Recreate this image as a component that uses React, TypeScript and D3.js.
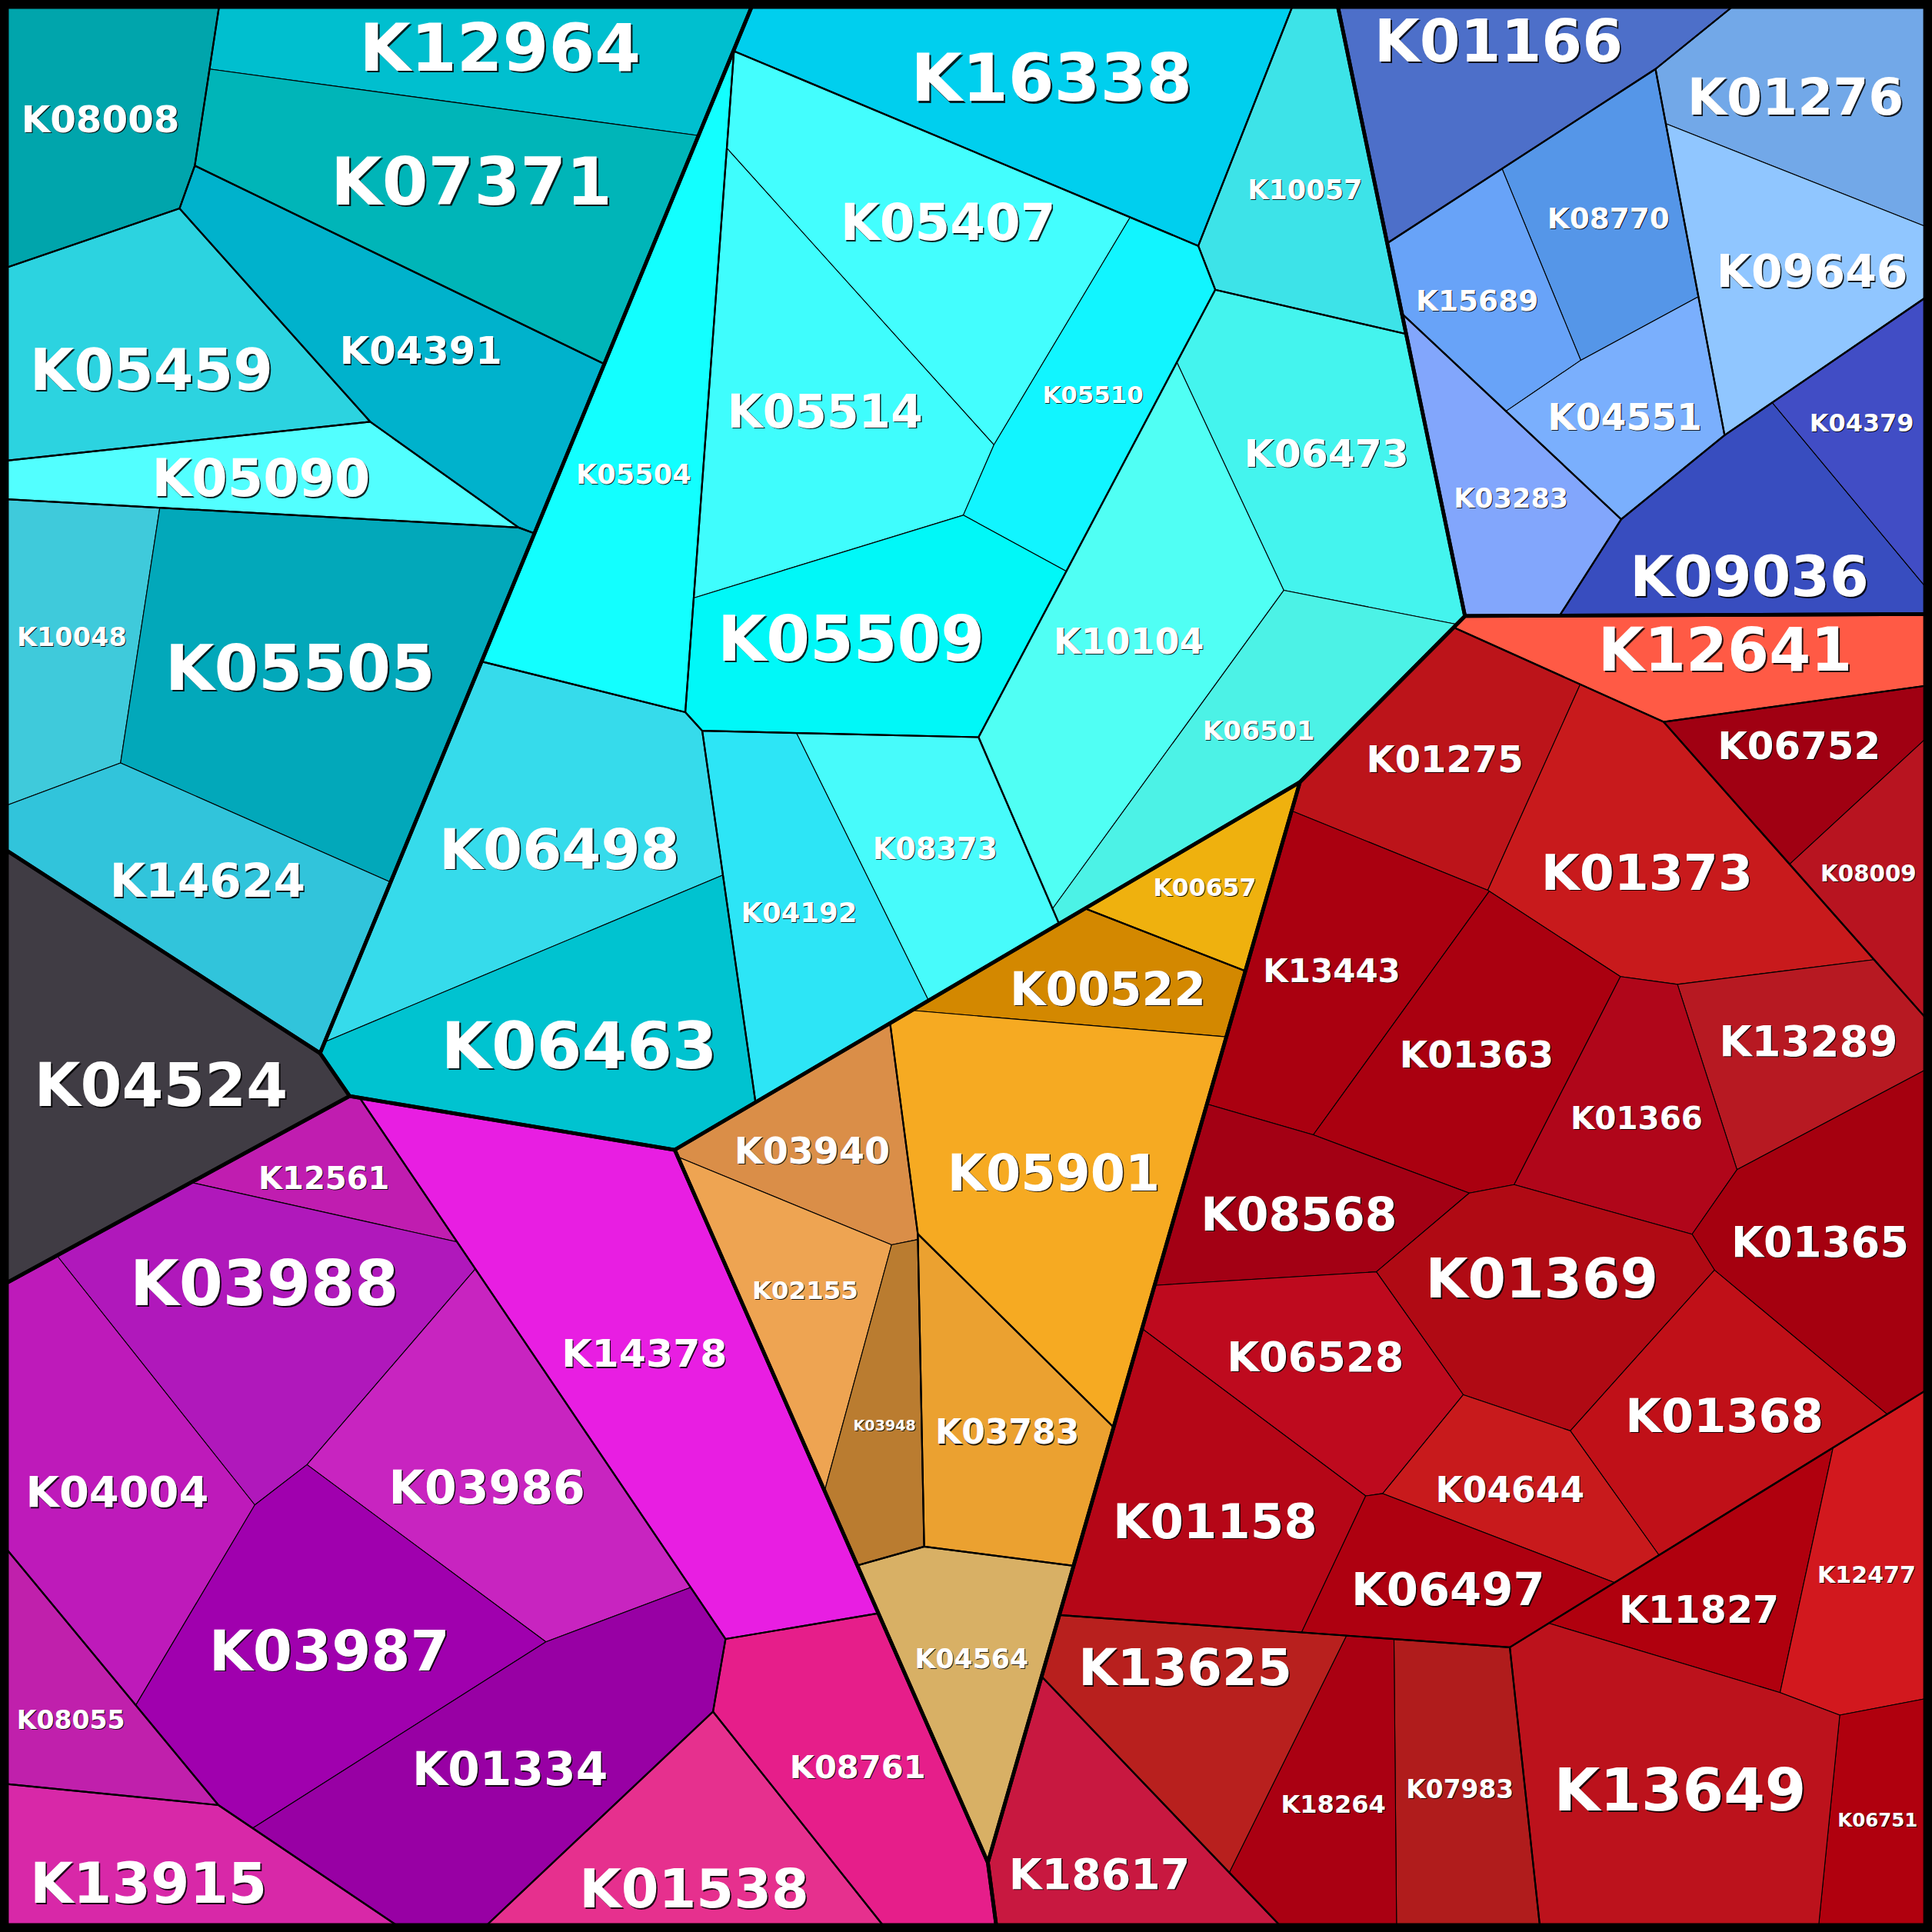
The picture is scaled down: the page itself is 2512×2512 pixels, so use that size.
import React, { useMemo } from "react";
import * as d3 from "d3";

type Pt = [number, number];

// Canvas and layout grid (cell centres are given on a 1568-unit grid)
const SIZE = 2512;
const GRID = 1568;
const INSET = 9;

const groupNames = ["teal", "cyan", "blue", "red", "orange", "magenta", "slate"];

const ids = [
  "K08008", "K12964", "K07371", "K05459", "K04391", "K05090", "K10048", "K05505", "K14624",
  "K16338", "K10057", "K05407", "K05514", "K05510", "K05504", "K05509", "K06473", "K10104", "K06501", "K08373", "K04192", "K06498", "K06463",
  "K01166", "K01276", "K08770", "K09646", "K15689", "K04551", "K03283", "K09036", "K04379",
  "K12641", "K01275", "K06752", "K08009", "K01373", "K13289", "K13443", "K01363", "K01366", "K01365", "K08568", "K01369", "K01368", "K06528", "K04644", "K01158", "K06497", "K11827", "K12477", "K06751", "K13649", "K07983", "K18264", "K13625", "K18617",
  "K00657", "K00522", "K05901", "K03940", "K02155", "K03948", "K03783", "K04564",
  "K12561", "K03988", "K04004", "K03986", "K03987", "K08055", "K01334", "K13915", "K14378", "K08761", "K01538",
  "K04524",
];

// top-level category of each ortholog
const groupOf = [
  0, 0, 0, 0, 0, 0, 0, 0, 0,
  1, 1, 1, 1, 1, 1, 1, 1, 1, 1, 1, 1, 1, 1,
  2, 2, 2, 2, 2, 2, 2, 2, 2,
  3, 3, 3, 3, 3, 3, 3, 3, 3, 3, 3, 3, 3, 3, 3, 3, 3, 3, 3, 3, 3, 3, 3, 3, 3,
  4, 4, 4, 4, 4, 4, 4, 4,
  5, 5, 5, 5, 5, 5, 5, 5, 5, 5, 5,
  6,
];

// second-level pathway of each ortholog
const pathwayOf = [
  0, 1, 1, 2, 3, 4, 5, 5, 5,
  6, 7, 8, 8, 8, 9, 8, 10, 10, 10, 11, 11, 12, 12,
  13, 14, 15, 14, 15, 15, 16, 17, 17,
  18, 19, 20, 20, 19, 19, 19, 19, 19, 19, 19, 19, 19, 19, 19, 19, 19, 21, 21, 21, 21, 22, 22, 22, 23,
  24, 25, 25, 26, 26, 26, 27, 28,
  29, 29, 29, 29, 29, 30, 29, 31, 32, 33, 34,
  35,
];

// relative abundance of each ortholog (cell area)
const values = [
  29.1, 32.5, 52.4, 38.6, 38.5, 20.9, 24.2, 68.5, 36.0,
  50.0, 26.3, 46.0, 47.8, 26.1, 44.9, 39.8, 39.9, 48.5, 28.3, 25.7, 30.9, 51.8, 45.1,
  31.5, 27.5, 21.8, 29.1, 17.1, 16.9, 20.4, 29.3, 14.4,
  23.3, 27.2, 16.0, 12.3, 40.8, 21.7, 31.4, 32.0, 22.4, 31.6, 22.8, 33.1, 29.2, 27.3, 17.2, 36.6, 18.5, 19.7, 21.9, 13.6, 52.2, 23.8, 21.4, 27.9, 24.6,
  11.0, 15.8, 56.6, 18.0, 19.1, 13.7, 26.6, 22.3,
  11.0, 46.9, 41.9, 43.9, 49.9, 16.2, 50.5, 25.0, 74.3, 33.6, 27.6,
  50.8,
];

// centre of each cell on the layout grid
const seedX = [
  83, 403, 373, 133, 338, 186, 61, 255, 171,
  853, 1053, 759, 652, 887, 514, 707, 1076, 916, 1021, 754, 652, 435, 470,
  1208, 1469, 1305, 1447, 1204, 1325, 1221, 1420, 1526,
  1394, 1183, 1460, 1525, 1345, 1456, 1082, 1196, 1328, 1492, 1048, 1251, 1391, 1069, 1236, 978, 1169, 1397, 1515, 1521, 1354, 1185, 1083, 969, 891,
  979, 890, 855, 671, 647, 719, 812, 788,
  272, 215, 88, 404, 258, 73, 411, 127, 523, 696, 559,
  103,
];
const seedY = [
  98, 46, 156, 282, 288, 386, 514, 541, 724,
  72, 161, 202, 320, 321, 385, 518, 368, 520, 592, 682, 739, 679, 839,
  69, 80, 177, 221, 236, 335, 395, 440, 353,
  533, 612, 621, 728, 699, 852, 788, 854, 907, 1008, 980, 1053, 1149, 1110, 1209, 1226, 1286, 1296, 1270, 1475, 1452, 1452, 1462, 1388, 1495,
  723, 800, 952, 926, 1053, 1158, 1161, 1346,
  956, 1071, 1202, 1198, 1339, 1394, 1432, 1515, 1098, 1434, 1504,
  868,
];

const colors = [
  "#00A5AC", "#00BFCF", "#00B5B8", "#2CD3E0", "#00B2CC", "#52FFFF", "#3FCADB", "#02A8BA", "#31C4DB",
  "#00CFEE", "#3DE3E8", "#43FEFE", "#3FFDFD", "#11F5FF", "#12FFFF", "#00F8F8", "#44F4EE", "#50FFF4", "#4CF2E6", "#47FBFB", "#2DE5F6", "#36DBEB", "#00C3D0",
  "#4D6FC9", "#72A8E8", "#5596E8", "#90C6FF", "#68A3F8", "#7AAFFD", "#82A6FC", "#384DBF", "#414DC5",
  "#FF5A45", "#BC141A", "#A00012", "#B81420", "#C81A1C", "#B71922", "#AA0010", "#AA0010", "#B0061A", "#A5000F", "#A30014", "#B00A14", "#C01018", "#BE0A1E", "#C81A1C", "#B50617", "#AE0010", "#B0000E", "#D2181E", "#B0000E", "#BC121C", "#B01C1C", "#AA0012", "#B8201E", "#C81840",
  "#EFB10E", "#D38800", "#F6AA22", "#DA8E48", "#EEA452", "#BA7C30", "#EBA130", "#D8B065",
  "#C01DB0", "#B018BB", "#BE1ABA", "#C824C0", "#A000AE", "#C020AC", "#9800A4", "#D828A8", "#E81EE2", "#E61E8A", "#E6308E",
  "#403C44",
];

const unit = d3.scaleLinear().domain([0, GRID]).range([0, SIZE]);

interface Site { x: number; y: number; w: number; tx: number; ty: number; target: number; reach: number; }
interface Cell { pts: Pt[]; lab: number[]; }

// Clip a convex polygon by a*x + b*y <= c, tracking which site produced each edge
function clipHalf(P: Cell, a: number, b: number, c: number, j: number): Cell {
  const pts: Pt[] = [];
  const lab: number[] = [];
  const n = P.pts.length;
  for (let k = 0; k < n; k++) {
    const p = P.pts[k];
    const q = P.pts[(k + 1) % n];
    const fp = a * p[0] + b * p[1] - c;
    const fq = a * q[0] + b * q[1] - c;
    const pin = fp <= 0;
    const qin = fq <= 0;
    if (pin) {
      pts.push(p);
      lab.push(P.lab[k]);
      if (!qin) {
        const t = fp / (fp - fq);
        pts.push([p[0] + t * (q[0] - p[0]), p[1] + t * (q[1] - p[1])]);
        lab.push(j);
      }
    } else if (qin) {
      const t = fp / (fp - fq);
      pts.push([p[0] + t * (q[0] - p[0]), p[1] + t * (q[1] - p[1])]);
      lab.push(P.lab[k]);
    }
  }
  return { pts, lab };
}

// Power-diagram cell of site i inside the clip polygon
function powerCell(i: number, sites: Site[], clip: Pt[]): Cell {
  let P: Cell = { pts: clip, lab: clip.map(() => -1) };
  const s = sites[i];
  for (let j = 0; j < sites.length; j++) {
    if (j === i) continue;
    const t = sites[j];
    const a = 2 * (t.x - s.x);
    const b = 2 * (t.y - s.y);
    const c = t.x * t.x + t.y * t.y - s.x * s.x - s.y * s.y - t.w + s.w;
    P = clipHalf(P, a, b, c, j);
    if (P.pts.length < 3) return { pts: [], lab: [] };
  }
  return P;
}

// Weighted Voronoi treemap step: areas follow the values, cell centroids follow the given centres
function relax(clip: Pt[], seeds: Pt[], vals: number[], iters: number): Pt[][] {
  if (seeds.length === 1) return [clip];
  const clipArea = Math.abs(d3.polygonArea(clip));
  const total = d3.sum(vals);
  const c0 = d3.polygonCentroid(clip);
  const sites: Site[] = seeds.map((p, i) => {
    const target = (clipArea * vals[i]) / total;
    return { x: p[0], y: p[1], w: 0, tx: p[0], ty: p[1], target, reach: 0.6 * Math.sqrt(target) };
  });
  const keepInside = (s: Site) => {
    const dx = s.x - s.tx;
    const dy = s.y - s.ty;
    const d = Math.hypot(dx, dy);
    if (d > s.reach) {
      s.x = s.tx + (dx * s.reach) / d;
      s.y = s.ty + (dy * s.reach) / d;
    }
    let k = 0;
    while (!d3.polygonContains(clip, [s.x, s.y]) && k++ < 80) {
      s.x = c0[0] + (s.x - c0[0]) * 0.96;
      s.y = c0[1] + (s.y - c0[1]) * 0.96;
    }
  };
  sites.forEach(keepInside);
  const step = (move: number) => {
    const upd = sites.map((s, i) => {
      const cell = powerCell(i, sites, clip);
      const n = cell.pts.length;
      if (n < 3) {
        let m = Infinity;
        sites.forEach((t, j) => {
          if (j !== i) m = Math.min(m, (t.x - s.x) ** 2 + (t.y - s.y) ** 2);
        });
        return { dx: 0, dy: 0, dw: 0.3 * m };
      }
      const area = Math.abs(d3.polygonArea(cell.pts));
      const [cx, cy] = d3.polygonCentroid(cell.pts);
      let sens = 0;
      for (let k = 0; k < n; k++) {
        const L = cell.lab[k];
        if (L < 0) continue;
        const p = cell.pts[k];
        const q = cell.pts[(k + 1) % n];
        const len = Math.hypot(q[0] - p[0], q[1] - p[1]);
        const d = Math.hypot(sites[L].x - s.x, sites[L].y - s.y);
        sens += len / (2 * Math.max(d, 1e-6));
      }
      return { dx: s.tx - cx, dy: s.ty - cy, dw: (0.5 * (s.target - area)) / Math.max(sens, 1e-3) };
    });
    sites.forEach((s, i) => {
      s.x += move * upd[i].dx;
      s.y += move * upd[i].dy;
      s.w += upd[i].dw;
      if (move > 0) keepInside(s);
    });
  };
  for (let it = 0; it < iters; it++) step(0.35);
  for (let it = 0; it < 200; it++) step(0);
  return sites.map((_, i) => powerCell(i, sites, clip).pts);
}

// DejaVu Sans Bold advance widths in em
const emWidth = (t: string) => Array.from(t).reduce((s, ch) => s + (ch === "K" ? 0.777 : 0.696), 0);

interface Label { x: number; y: number; size: number; }

// Largest label that fits the cell, searched around its centroid
function placeLabel(poly: Pt[], text: string): Label | null {
  if (!poly || poly.length < 3) return null;
  const area = Math.abs(d3.polygonArea(poly));
  const [cx, cy] = d3.polygonCentroid(poly);
  const em = emWidth(text);
  const fits = (x: number, y: number, f: number) => {
    const hw = 0.59 * em * f;
    const hh = 0.55 * f;
    return (
      d3.polygonContains(poly, [x - hw, y - hh]) &&
      d3.polygonContains(poly, [x + hw, y - hh]) &&
      d3.polygonContains(poly, [x + hw, y + hh]) &&
      d3.polygonContains(poly, [x - hw, y + hh])
    );
  };
  const maxFont = (x: number, y: number) => {
    let lo = 6;
    let hi = 86;
    if (!fits(x, y, lo)) return 0;
    if (fits(x, y, hi)) return hi;
    for (let k = 0; k < 12; k++) {
      const m = (lo + hi) / 2;
      if (fits(x, y, m)) lo = m;
      else hi = m;
    }
    return lo;
  };
  const R = 0.25 * Math.sqrt(area);
  const stepLen = R / 6;
  let best = { x: cx, y: cy, size: maxFont(cx, cy), score: 0 };
  best.score = best.size;
  for (let gx = -6; gx <= 6; gx++) {
    for (let gy = -6; gy <= 6; gy++) {
      const dx = gx * stepLen;
      const dy = gy * stepLen;
      const d = Math.hypot(dx, dy);
      if (d === 0 || d > R) continue;
      const f = maxFont(cx + dx, cy + dy);
      const score = f - 0.2 * d;
      if (score > best.score) best = { x: cx + dx, y: cy + dy, size: f, score };
    }
  }
  if (best.size < 6) best.size = 6;
  return { x: best.x, y: best.y, size: best.size };
}

// Split a polygon among the given items, weighting their centres by value
function splitAmong(clip: Pt[], items: number[][]): Pt[][] {
  const vals = items.map((m) => d3.sum(m, (i) => values[i]));
  const seeds: Pt[] = items.map((m, k) => [
    d3.sum(m, (i) => values[i] * unit(seedX[i])) / vals[k],
    d3.sum(m, (i) => values[i] * unit(seedY[i])) / vals[k],
  ]);
  return relax(clip, seeds, vals, 400);
}

function buildLayout() {
  const square: Pt[] = [
    [INSET, INSET],
    [SIZE - INSET, INSET],
    [SIZE - INSET, SIZE - INSET],
    [INSET, SIZE - INSET],
  ];
  const all = d3.range(ids.length);
  const groups = groupNames.map((_, g) => all.filter((i) => groupOf[i] === g));
  const groupPolys = splitAmong(square, groups);
  const pathwayPolys: Pt[][] = [];
  const leafPolys: Pt[][] = new Array(ids.length);
  groups.forEach((members, g) => {
    const keys = Array.from(new Set(members.map((i) => pathwayOf[i])));
    const subsets = keys.map((k) => members.filter((i) => pathwayOf[i] === k));
    const subPolys = splitAmong(groupPolys[g], subsets);
    subsets.forEach((subset, k) => {
      pathwayPolys.push(subPolys[k]);
      const leaves = splitAmong(subPolys[k], subset.map((i) => [i]));
      subset.forEach((i, j) => (leafPolys[i] = leaves[j]));
    });
  });
  const labels = leafPolys.map((p, i) => placeLabel(p, ids[i]));
  return { groupPolys, pathwayPolys, leafPolys, labels };
}

const pathOf = (p: Pt[]) =>
  !p || p.length < 3 ? "" : "M" + p.map((q) => q[0].toFixed(2) + "," + q[1].toFixed(2)).join("L") + "Z";

export default function App() {
  const { groupPolys, pathwayPolys, leafPolys, labels } = useMemo(buildLayout, []);
  return (
    <div style={{ position: "absolute", left: 0, top: 0 }}>
      <svg width={SIZE} height={SIZE} viewBox={`0 0 ${SIZE} ${SIZE}`} style={{ display: "block" }}>
        <rect x={0} y={0} width={SIZE} height={SIZE} fill="#000" />
        <g stroke="#000" strokeWidth={1.1} strokeLinejoin="round">
          {leafPolys.map((p, i) => (
            <path key={ids[i]} d={pathOf(p)} fill={colors[i]} />
          ))}
        </g>
        <g fill="none" stroke="#000" strokeWidth={2.2} strokeLinejoin="round">
          {pathwayPolys.map((p, k) => (
            <path key={k} d={pathOf(p)} />
          ))}
        </g>
        <g fill="none" stroke="#000" strokeWidth={4.8} strokeLinejoin="round">
          {groupPolys.map((p, g) => (
            <path key={groupNames[g]} d={pathOf(p)} />
          ))}
        </g>
        <g fontFamily="'DejaVu Sans', Verdana, sans-serif" fontWeight="bold" textAnchor="middle">
          {labels.map((l, i) => {
            if (!l) return null;
            const off = Math.max(1, l.size * 0.025);
            const base = l.y + 0.36 * l.size;
            return (
              <g key={ids[i]} fontSize={l.size.toFixed(1)}>
                <text x={l.x + off} y={base + off} fill="#000" fillOpacity={0.85}>
                  {ids[i]}
                </text>
                <text x={l.x} y={base} fill="#fff">
                  {ids[i]}
                </text>
              </g>
            );
          })}
        </g>
      </svg>
    </div>
  );
}
